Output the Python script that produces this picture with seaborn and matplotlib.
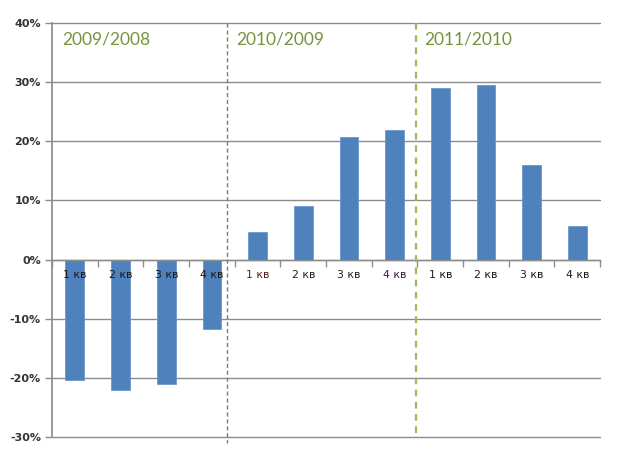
import pandas as pd
import matplotlib
matplotlib.use("Agg")
import matplotlib.pyplot as plt
from matplotlib.ticker import FixedLocator, PercentFormatter
import seaborn as sns

# data (growth vs same quarter of previous year, %)
periods = ["2009/2008", "2010/2009", "2011/2010"]
quarters = ["1 кв", "2 кв", "3 кв", "4 кв"]
growth_2009 = [-20.3, -22.1, -21.1, -11.8]
growth_2010 = [4.7, 9.0, 20.7, 21.9]
growth_2011 = [29.0, 29.5, 16.0, 5.6]

rows = []
for per, vals in zip(periods, [growth_2009, growth_2010, growth_2011]):
    for q, v in zip(quarters, vals):
        rows.append({"slot": per + " " + q, "period": per, "quarter": q, "growth": v})
df = pd.DataFrame(rows)

sns.set_theme(style="white")
plt.rcParams["font.family"] = ["DejaVu Sans"]
plt.rcParams["axes.unicode_minus"] = False

fig = plt.figure(figsize=(6.2, 4.75), dpi=100)
ax = fig.add_axes([0.0839, 0.080, 0.884, 0.8716])

sns.barplot(data=df, x="slot", y="growth", color="#4f81bd", saturation=1,
            width=0.41, ax=ax, zorder=2)
for p in ax.patches:
    p.set_edgecolor("#6d97c9")
    p.set_linewidth(0.6)

ax.set_xlim(-0.5, 11.5)
ax.set_ylim(-30, 40)
ax.set_xlabel("")
ax.set_ylabel("")

# y axis: gridlines and percent labels
ax.set_yticks(range(-30, 41, 10))
ax.yaxis.set_major_formatter(PercentFormatter(decimals=0))
ax.yaxis.grid(True, color="#8c8c8c", linewidth=1)
for gl in ax.yaxis.get_gridlines():
    gl.set_clip_on(False)
ax.set_axisbelow(True)
ax.tick_params(axis="y", which="major", left=True, length=5, width=1,
               color="#8c8c8c", labelsize=8, labelcolor="#333333", pad=3)
for t in ax.get_yticklabels():
    t.set_fontweight("semibold")

# x axis sits at zero, ticks at category boundaries
for s in ["top", "right"]:
    ax.spines[s].set_visible(False)
ax.spines["left"].set_color("#8c8c8c")
ax.spines["bottom"].set_position(("data", 0))
ax.spines["bottom"].set_color("#8c8c8c")
ax.spines["bottom"].set_linewidth(1)
ax.set_xticks(range(12))
ax.set_xticklabels([])
ax.tick_params(axis="x", which="major", bottom=False, length=0)
ax.xaxis.set_minor_locator(FixedLocator([i - 0.5 for i in range(13)]))
ax.tick_params(axis="x", which="minor", bottom=True, length=5, width=1,
               color="#8c8c8c", direction="out")

label_colors = ["#1a1a1a"] * 4 + ["#5a1c1c", "#222222", "#2a2418", "#3c1a3c"] + ["#1a1a1a"] * 4
for i, (q, c) in enumerate(zip(df["quarter"], label_colors)):
    ax.text(i, -2.6, q, ha="center", va="center", fontsize=7.8, color=c, zorder=5)

# period separators and headings
ax.plot([3.33, 3.33], [40, -31], ls=(0, (3, 2)), color="#77864a", lw=1,
        clip_on=False, zorder=3)
ax.plot([7.47, 7.47], [40, -30], ls=(0, (3, 2.5)), color="#9bbb59", lw=1.6,
        clip_on=False, zorder=3)
for x, per in zip([-0.28, 3.54, 7.64], periods):
    ax.text(x, 37.2, per, ha="left", va="center", fontsize=12.5,
            color="#77933c", family=["Lato", "DejaVu Sans"])

fig.savefig("out.png", dpi=100)
